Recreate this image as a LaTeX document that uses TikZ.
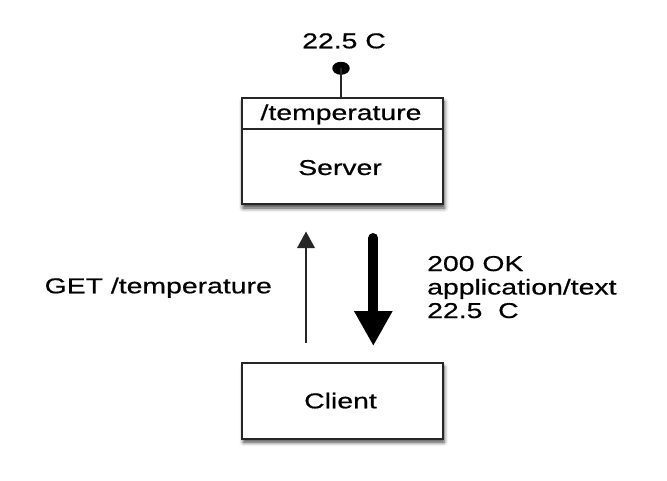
\documentclass[tikz,border=0pt]{standalone}
\usepackage{fontspec}
\setmainfont[FakeStretch=1.32,FakeBold=0.6]{Liberation Sans}
\usetikzlibrary{arrows.meta,shadows.blur,shapes.geometric}
\tikzset{
  box/.style={draw=black!85, line width=2bp, fill=white, inner sep=0pt},
  shadowed/.style={blur shadow={shadow xshift=1.5bp, shadow yshift=-3.5bp, shadow blur radius=4bp, shadow opacity=75}},
  lbl/.style={inner sep=0pt, font=\fontsize{21.5bp}{23.5bp}\selectfont},
  thin arrow/.style={draw=black!85, line width=1.8bp, -{Triangle[width=17.7bp,length=16.7bp]}},
  thick arrow/.style={line width=10bp, line cap=round, -{Triangle[width=36bp,length=35bp]}}
}
\begin{document}
\begin{tikzpicture}[x=1bp,y=-1bp]
\useasboundingbox (0,0) rectangle (667,481);
% server
\node[box, shadowed, minimum width=201.5bp, minimum height=106.2bp] (server) at (342.25,151.4) {};
\node[box, minimum width=201.5bp, minimum height=30.7bp, anchor=north] (res) at (server.north) {};
\node[lbl, anchor=base] (restext) at (341,120) {/temperature};
\node[lbl, anchor=base] (srvtext) at (340,175) {Server};
% observe dot
\node[ellipse, fill=black, minimum width=17.5bp, minimum height=13bp, inner sep=0pt] (dot) at (341,68.3) {};
\draw[line width=1.6bp, draw=black!85] (dot.center) -- (dot.center |- server.north);
\node[lbl, anchor=base] (val) at (344,48.3) {22.5 C};
% client
\node[box, shadowed, minimum width=200.5bp, minimum height=75.2bp] (client) at (342.25,401) {};
\node[lbl, anchor=base] (clienttext) at (340.5,408.3) {Client};
% arrows
\coordinate (upS) at (306,342.5);
\coordinate (upE) at (306,231.5);
\coordinate (dnS) at (373.3,238);
\coordinate (dnE) at (373.3,346);
\draw[thin arrow] (upS) -- (upE);
\draw[thick arrow] (dnS) -- (dnE);
% labels
\node[lbl, anchor=base west] (get) at (44.5,293.3) {GET /temperature};
\node[lbl, anchor=base west] (ok1) at (427,271) {200 OK};
\node[lbl, anchor=base west] (ok2) at (427,294.5) {application/text};
\node[lbl, anchor=base west] (ok3) at (427,318) {22.5\ \ C};
\end{tikzpicture}
\end{document}
